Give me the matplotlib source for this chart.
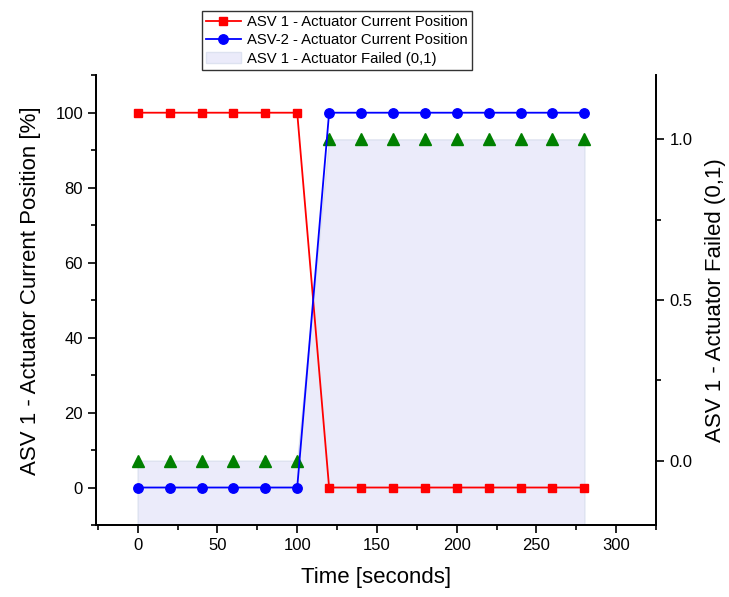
import matplotlib
matplotlib.use("Agg")
import matplotlib.pyplot as plt
from matplotlib.ticker import MultipleLocator, FormatStrFormatter
from matplotlib.patches import Patch
from matplotlib.lines import Line2D

time_s = [0, 20, 40, 60, 80, 100, 120, 140, 160, 180, 200, 220, 240, 260, 280]
asv1_position = [100, 100, 100, 100, 100, 100, 0, 0, 0, 0, 0, 0, 0, 0, 0]
asv2_position = [0, 0, 0, 0, 0, 0, 100, 100, 100, 100, 100, 100, 100, 100, 100]
asv1_failed = [0, 0, 0, 0, 0, 0, 1, 1, 1, 1, 1, 1, 1, 1, 1]

label_asv1 = "ASV 1 - Actuator Current Position"
label_asv2 = "ASV-2 - Actuator Current Position"
label_failed = "ASV 1 - Actuator Failed (0,1)"

plt.rcParams['font.family'] = ['Liberation Sans', 'DejaVu Sans']

fig = plt.figure(figsize=(7.29, 5.97), dpi=100)
ax1 = fig.add_axes([0.132, 0.1206, 0.768, 0.7534])
ax2 = ax1.twinx()
ax1.set_zorder(2)
ax1.patch.set_visible(False)

fill_color = '#ebebfa'
ax2.fill_between(time_s, asv1_failed, -0.2, facecolor=fill_color,
                 edgecolor='#dde2f0', linewidth=1.0, zorder=1)
ax2.plot(time_s, asv1_failed, linestyle='none', marker='^', color='#008000',
         markersize=8, zorder=3)
ax2.set_ylim(-0.2, 1.2)

ax1.plot(time_s, asv1_position, color='#ff0000', marker='s', markersize=6,
         linewidth=1.3, zorder=3)
ax1.plot(time_s, asv2_position, color='#0000ff', marker='o', markersize=6.8,
         linewidth=1.3, zorder=3)
ax1.set_xlim(-26, 325)
ax1.set_ylim(-10, 110)

ax1.xaxis.set_major_locator(MultipleLocator(50))
ax1.xaxis.set_minor_locator(MultipleLocator(25))
ax1.yaxis.set_major_locator(MultipleLocator(20))
ax1.yaxis.set_minor_locator(MultipleLocator(10))
ax2.yaxis.set_major_locator(MultipleLocator(0.5))
ax2.yaxis.set_minor_locator(MultipleLocator(0.25))
ax2.yaxis.set_major_formatter(FormatStrFormatter('%.1f'))

for ax in (ax1, ax2):
    ax.spines['top'].set_visible(False)
    for s in ax.spines.values():
        s.set_linewidth(1.3)
    ax.tick_params(which='major', direction='out', length=6, width=1.2, labelsize=12)
    ax.tick_params(which='minor', direction='out', length=3.5, width=1.2)

ax1.set_xlabel("Time [seconds]", fontsize=16, labelpad=10)
ax1.set_ylabel("ASV 1 - Actuator Current Position [%]", fontsize=16)
ax1.yaxis.set_label_coords(-0.098, 0.522)
ax2.set_ylabel(label_failed, fontsize=16, labelpad=9)

handles = [
    Line2D([], [], color='#ff0000', marker='s', markersize=6, linewidth=1.3),
    Line2D([], [], color='#0000ff', marker='o', markersize=6.8, linewidth=1.3),
    Patch(facecolor=fill_color, edgecolor='#dde2f0'),
]
leg = fig.legend(handles, [label_asv1, label_asv2, label_failed],
                 loc='upper left', bbox_to_anchor=(0.277, 0.982),
                 fontsize=10.7, frameon=True, fancybox=False, edgecolor='black',
                 borderpad=0.3, labelspacing=0.28, handlelength=2.3,
                 handletextpad=0.4, borderaxespad=0)
leg.get_frame().set_linewidth(1.0)

fig.savefig("out.png", dpi=100)
